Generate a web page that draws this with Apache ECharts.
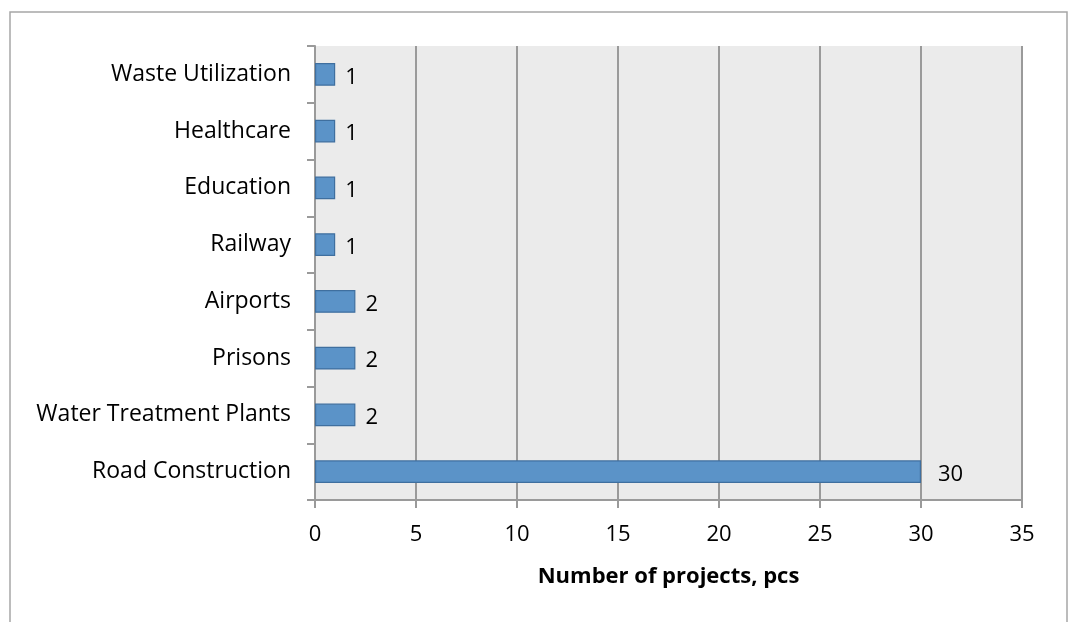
<!DOCTYPE html>
<html>
<head>
<meta charset="utf-8">
<script src="https://cdn.jsdelivr.net/npm/echarts@6/dist/echarts.min.js"></script>
<style>
  html, body { margin: 0; padding: 0; background: #ffffff; }
  #chart { width: 1068px; height: 622px; }
</style>
</head>
<body>
<div id="chart"></div>
<script>
// Project categories, listed bottom to top
const categories = [
  'Road Construction',
  'Water Treatment Plants',
  'Prisons',
  'Airports',
  'Railway',
  'Education',
  'Healthcare',
  'Waste Utilization'
];
const projectCounts = [30, 2, 2, 2, 1, 1, 1, 1];
const xTicks = { min: 0, max: 35, step: 5 };
const xTitle = 'Number of projects, pcs';

const FONT = '"Open Sans", Lato, sans-serif';
const AXIS_GRAY = '#9a9a9a';

const chart = echarts.init(document.getElementById('chart'), null, { renderer: 'canvas' });

chart.setOption({
  animation: false,
  backgroundColor: '#ffffff',
  graphic: [{
    type: 'rect',
    shape: { x: 10, y: 12, width: 1057, height: 640 },
    style: { fill: 'none', stroke: '#a6a6a6', lineWidth: 1.5 },
    silent: true
  }],
  grid: {
    left: 315, right: 46, top: 46, bottom: 122,
    show: true, backgroundColor: '#ebebeb', borderWidth: 0
  },
  xAxis: {
    type: 'value',
    min: xTicks.min, max: xTicks.max, interval: xTicks.step,
    name: xTitle,
    nameLocation: 'middle',
    nameGap: 66,
    nameTextStyle: { fontFamily: FONT, fontSize: 22, fontWeight: 'bold', color: '#000' },
    axisLine: { show: true, lineStyle: { color: AXIS_GRAY, width: 2 } },
    axisTick: { show: true, length: 8, lineStyle: { color: AXIS_GRAY, width: 2 } },
    axisLabel: { fontFamily: FONT, fontSize: 22, color: '#000', margin: 24 },
    splitLine: { show: true, lineStyle: { color: AXIS_GRAY, width: 2 } }
  },
  yAxis: {
    type: 'category',
    data: categories,
    axisLine: { show: true, lineStyle: { color: AXIS_GRAY, width: 2 } },
    axisTick: { show: true, length: 8, lineStyle: { color: AXIS_GRAY, width: 2 } },
    axisLabel: { fontFamily: FONT, fontSize: 23, color: '#000', margin: 24, padding: [9, 0, 0, 0] },
    splitLine: { show: false }
  },
  series: [{
    type: 'bar',
    data: projectCounts.map(v => v === 30
      ? { value: v, label: { distance: 17 } }
      : { value: v }),
    barWidth: '40%',
    itemStyle: { color: '#5b93c8', borderColor: '#3f6f9f', borderWidth: 1.2 },
    label: {
      show: true,
      position: 'right',
      distance: 10,
      offset: [0, 3],
      fontFamily: FONT,
      fontSize: 22,
      color: '#000'
    }
  }]
});
</script>
</body>
</html>
